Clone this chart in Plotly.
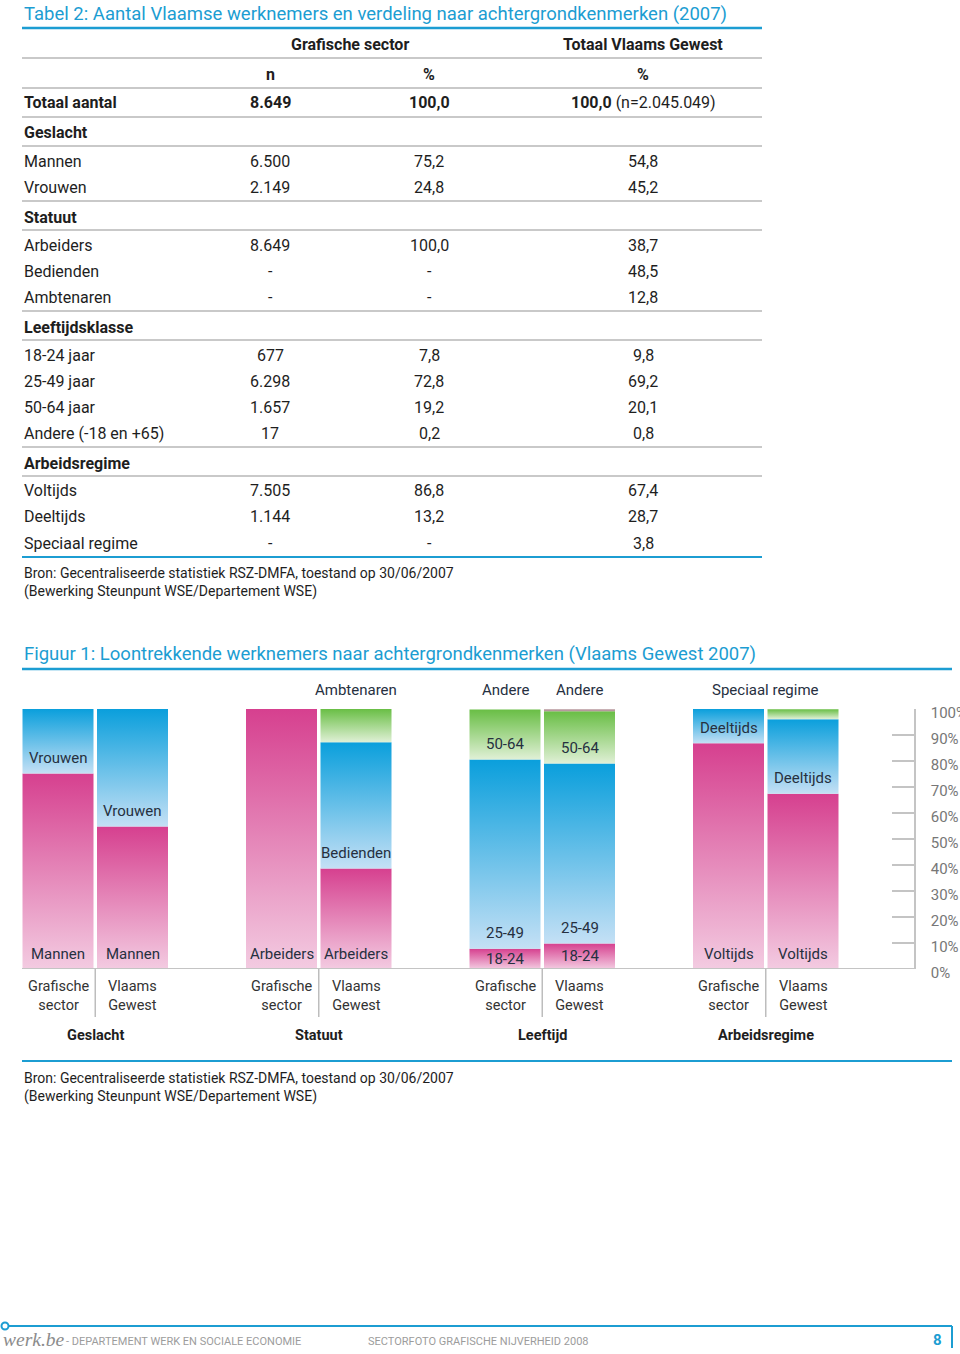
import plotly.graph_objects as go

W, H = 960, 1354

# ---------------- data ----------------
table_title = "Tabel 2: Aantal Vlaamse werknemers en verdeling naar achtergrondkenmerken (2007)"
figure_title = "Figuur 1: Loontrekkende werknemers naar achtergrondkenmerken (Vlaams Gewest 2007)"
source_text = "Bron: Gecentraliseerde statistiek RSZ-DMFA, toestand op 30/06/2007<br>(Bewerking Steunpunt WSE/Departement WSE)"

column_groups = ["Grafische sector", "Totaal Vlaams Gewest"]
column_units = ["n", "%", "%"]

total_label = "Totaal aantal"
total_n = "8.649"
total_pct_gs = 100.0
total_pct_vg = 100.0
total_n_vg = "2.045.049"

section_names = ["Geslacht", "Statuut", "Leeftijdsklasse", "Arbeidsregime"]

geslacht_labels = ["Mannen", "Vrouwen"]
geslacht_n = ["6.500", "2.149"]
geslacht_pct_gs = [75.2, 24.8]
geslacht_pct_vg = [54.8, 45.2]

statuut_labels = ["Arbeiders", "Bedienden", "Ambtenaren"]
statuut_n = ["8.649", "-", "-"]
statuut_pct_gs = [100.0, None, None]
statuut_pct_vg = [38.7, 48.5, 12.8]

leeftijd_labels = ["18-24 jaar", "25-49 jaar", "50-64 jaar", "Andere (-18 en +65)"]
leeftijd_n = ["677", "6.298", "1.657", "17"]
leeftijd_pct_gs = [7.8, 72.8, 19.2, 0.2]
leeftijd_pct_vg = [9.8, 69.2, 20.1, 0.8]

regime_labels = ["Voltijds", "Deeltijds", "Speciaal regime"]
regime_n = ["7.505", "1.144", "-"]
regime_pct_gs = [86.8, 13.2, None]
regime_pct_vg = [67.4, 28.7, 3.8]

chart_group_names = ["Geslacht", "Statuut", "Leeftijd", "Arbeidsregime"]
bar_names = ["Grafische<br>sector", "Vlaams<br>Gewest"]
geslacht_short = ["Mannen", "Vrouwen"]
statuut_short = ["Arbeiders", "Bedienden", "Ambtenaren"]
leeftijd_short = ["18-24", "25-49", "50-64", "Andere"]
regime_short = ["Voltijds", "Deeltijds", "Speciaal regime"]

y_tick_values = [0, 10, 20, 30, 40, 50, 60, 70, 80, 90, 100]
y_tick_labels = ["0%", "10%", "20%", "30%", "40%", "50%", "60%", "70%", "80%", "90%", "100%"]

footer_logo = "werk.be"
footer_dept = "- DEPARTEMENT WERK EN SOCIALE ECONOMIE"
footer_title = "SECTORFOTO GRAFISCHE NIJVERHEID 2008"
footer_page = "8"

# ---------------- styles ----------------
FONT = "Roboto"
BLUE_LINE = "#1c9dd2"
GRAY_LINE = "#c9c9c9"
TEXT = "#1e1e1e"
LABEL = "#26303f"
GRAD = {
    "magenta": ("#f3cbe1", "#d6408f"),
    "blue": ("#c4e0f5", "#0a9fdc"),
    "green": ("#e0f0d6", "#69be45"),
    "mauve": ("#b7979d", "#b7979d"),
}
group_colors = [
    ["magenta", "blue"],
    ["magenta", "blue", "green"],
    ["magenta", "blue", "green", "mauve"],
    ["magenta", "blue", "green"],
]
# how the top category label is placed: none / above each bar / above the pair
above_mode = ["none", "bar", "bar", "group"]

BAR_UNIT = 74.5      # px per bar slot
FIRST_CENTER = 58.0  # px of first bar centre
BAR_W = 71.0 / BAR_UNIT
Y0_PX, Y100_PX = 969.0, 709.0


def px(xp):
    return xp / W


def py(yp):
    return 1 - yp / H


def fmt(v):
    return "-" if v is None else f"{v:.1f}".replace(".", ",")


fig = go.Figure()
ann = []
shapes = []


def text(x, y, s, size=16, color=TEXT, xanchor="center", yanchor="middle", bold=False, **kw):
    ann.append(dict(x=px(x), y=py(y), xref="paper", yref="paper", text=f"<b>{s}</b>" if bold else s,
                    showarrow=False, xanchor=xanchor, yanchor=yanchor,
                    font=dict(family=kw.pop("family", FONT), size=size, color=color), **kw))


def hline(y, x0, x1, color, width):
    shapes.append(dict(type="line", xref="paper", yref="paper", x0=px(x0), x1=px(x1),
                       y0=py(y), y1=py(y), line=dict(color=color, width=width)))


# ---------------- table ----------------
LX, X_N, X_GS, X_VG, RX = 22, 270, 429, 643, 762
text(LX, 14, table_title, size=18.5, color=BLUE_LINE, xanchor="left")
hline(28, LX, RX, BLUE_LINE, 2.5)
text((X_N + X_GS) / 2, 44, column_groups[0], bold=True)
text(X_VG, 44, column_groups[1], bold=True)
hline(58, LX, RX, GRAY_LINE, 2)
for xx, u in zip([X_N, X_GS, X_VG], column_units):
    text(xx, 74, u, bold=True)
hline(88, LX, RX, GRAY_LINE, 2)
text(LX, 103, total_label, xanchor="left", bold=True)
text(X_N, 103, total_n, bold=True)
text(X_GS, 103, fmt(total_pct_gs), bold=True)
text(X_VG, 103, f"<b>{fmt(total_pct_vg)}</b> (n={total_n_vg})")
line_y = 117
hline(line_y, LX, RX, GRAY_LINE, 2)

sections = [
    (geslacht_labels, geslacht_n, geslacht_pct_gs, geslacht_pct_vg),
    (statuut_labels, statuut_n, statuut_pct_gs, statuut_pct_vg),
    (leeftijd_labels, leeftijd_n, leeftijd_pct_gs, leeftijd_pct_vg),
    (regime_labels, regime_n, regime_pct_gs, regime_pct_vg),
]
for si, (name, (labs, ns, gs, vg)) in enumerate(zip(section_names, sections)):
    hy = line_y + 16
    text(LX, hy, name, xanchor="left", bold=True)
    l2 = hy + 13
    hline(l2, LX, RX, GRAY_LINE, 2)
    ry = l2 + 15
    for i, (lab, n, g, v) in enumerate(zip(labs, ns, gs, vg)):
        yy = ry + 26 * i
        text(LX, yy, lab, xanchor="left")
        text(X_N, yy, n)
        text(X_GS, yy, fmt(g))
        text(X_VG, yy, fmt(v))
    line_y = ry + 26 * (len(labs) - 1) + 14
    last = si == len(section_names) - 1
    hline(line_y, LX, RX, BLUE_LINE if last else GRAY_LINE, 2)

text(LX, 563, source_text, size=14, xanchor="left", yanchor="top", align="left")

# ---------------- chart ----------------
text(LX, 654, figure_title, size=18.5, color=BLUE_LINE, xanchor="left")
hline(669, LX, 952, BLUE_LINE, 2.5)

chart_groups = [
    (geslacht_short, geslacht_pct_gs, geslacht_pct_vg),
    (statuut_short, statuut_pct_gs, statuut_pct_vg),
    (leeftijd_short, leeftijd_pct_gs, leeftijd_pct_vg),
    (regime_short, regime_pct_gs, regime_pct_vg),
]

for g, (labs, gs, vg) in enumerate(chart_groups):
    ncat = len(labs)
    for b, vals in enumerate([gs, vg]):
        pos = 3 * g + b
        x0, x1 = pos - BAR_W / 2, pos + BAR_W / 2
        base = 0.0
        for k, (lab, v) in enumerate(zip(labs, vals)):
            if not v:
                continue
            top = base + v
            lo, hi = GRAD[group_colors[g][k]]
            fig.add_trace(go.Scatter(
                x=[x0, x1, x1, x0, x0], y=[base, base, top, top, base],
                mode="lines", line=dict(width=0, color=hi), fill="toself",
                fillcolor=hi,
                fillgradient=dict(type="vertical", colorscale=[[0, lo], [1, hi]]) if lo != hi else None,
                hoverinfo="skip", showlegend=False))
            is_top_cat = k == ncat - 1 and above_mode[g] != "none"
            if not is_top_cat:
                ann.append(dict(x=pos, y=base + min(5.9, v / 2), xref="x", yref="y", text=lab,
                                showarrow=False, xanchor="center", yanchor="middle",
                                font=dict(family=FONT, size=15, color=LABEL)))
            elif above_mode[g] == "bar":
                ann.append(dict(x=pos, y=py(690), xref="x", yref="paper", text=lab, showarrow=False,
                                xanchor="center", yanchor="middle",
                                font=dict(family=FONT, size=15, color=LABEL)))
            elif above_mode[g] == "group":
                ann.append(dict(x=3 * g + 0.5, y=py(690), xref="x", yref="paper", text=lab,
                                showarrow=False, xanchor="center", yanchor="middle",
                                font=dict(family=FONT, size=15, color=LABEL)))
            base = top
        ann.append(dict(x=pos, y=py(995.5), xref="x", yref="paper", text=bar_names[b], showarrow=False,
                        xanchor="center", yanchor="middle",
                        font=dict(family=FONT, size=14.5, color="#333333")))
    shapes.append(dict(type="line", xref="x", yref="paper", x0=3 * g + 0.5, x1=3 * g + 0.5,
                       y0=py(969), y1=py(1017), line=dict(color="#bdbdbd", width=1.5)))
    ann.append(dict(x=3 * g + 0.5, y=py(1035), xref="x", yref="paper", text=f"<b>{chart_group_names[g]}</b>",
                    showarrow=False, xanchor="center", yanchor="middle",
                    font=dict(family=FONT, size=14.5, color=TEXT)))

# baseline
shapes.append(dict(type="line", xref="paper", yref="y", x0=px(22), x1=px(915), y0=0, y1=0,
                   line=dict(color="#c4c4c4", width=2)))

hline(1061, LX, 952, BLUE_LINE, 2)
text(LX, 1068, source_text, size=14, xanchor="left", yanchor="top", align="left")

# ---------------- footer ----------------
hline(1326, 9, 952, BLUE_LINE, 2)
shapes.append(dict(type="line", xref="paper", yref="paper", x0=px(952), x1=px(952),
                   y0=py(1326), y1=py(1348), line=dict(color=BLUE_LINE, width=2)))
shapes.append(dict(type="circle", xref="paper", yref="paper", x0=px(1.5), x1=px(8.5),
                   y0=py(1329.5), y1=py(1322.5), line=dict(color=BLUE_LINE, width=2), fillcolor="white"))
text(1, 1339, f"<i>{footer_logo}</i>", size=19.5, color="#8c8c8c", xanchor="left", family="Liberation Serif")
text(64, 1341, footer_dept, size=11, color="#9c9c9c", xanchor="left")
text(366, 1341, footer_title, size=11, color="#9c9c9c", xanchor="left")
text(937, 1340, footer_page, size=15, color=BLUE_LINE, bold=True)

# ---------------- layout ----------------
xr0 = (0 - FIRST_CENTER) / BAR_UNIT
xr1 = (W - FIRST_CENTER) / BAR_UNIT
fig.update_layout(
    width=W, height=H, margin=dict(l=0, r=0, t=0, b=0, pad=0, autoexpand=False),
    paper_bgcolor="white", plot_bgcolor="rgba(0,0,0,0)",
    font=dict(family=FONT),
    xaxis=dict(domain=[0, 1], range=[xr0, xr1], visible=False, fixedrange=True, automargin=False),
    yaxis=dict(domain=[py(Y0_PX), py(Y100_PX)], range=[0, 100], side="right", anchor="free",
               position=px(915), showline=True, linecolor="#c4c4c4", linewidth=1.5,
               ticks="inside", ticklen=22, tickcolor="#c4c4c4", tickwidth=1.5,
               tickvals=y_tick_values, ticktext=y_tick_labels, showgrid=False, zeroline=False,
               tickfont=dict(family=FONT, size=15, color="#777777"), automargin=False,
               ticklabelstandoff=12, ticklabelshift=4, fixedrange=True),
    annotations=ann, shapes=shapes, showlegend=False,
)

fig.write_html("out.html", config={"displayModeBar": False},
               post_script="document.body.style.margin='0';document.body.style.overflow='hidden';")
